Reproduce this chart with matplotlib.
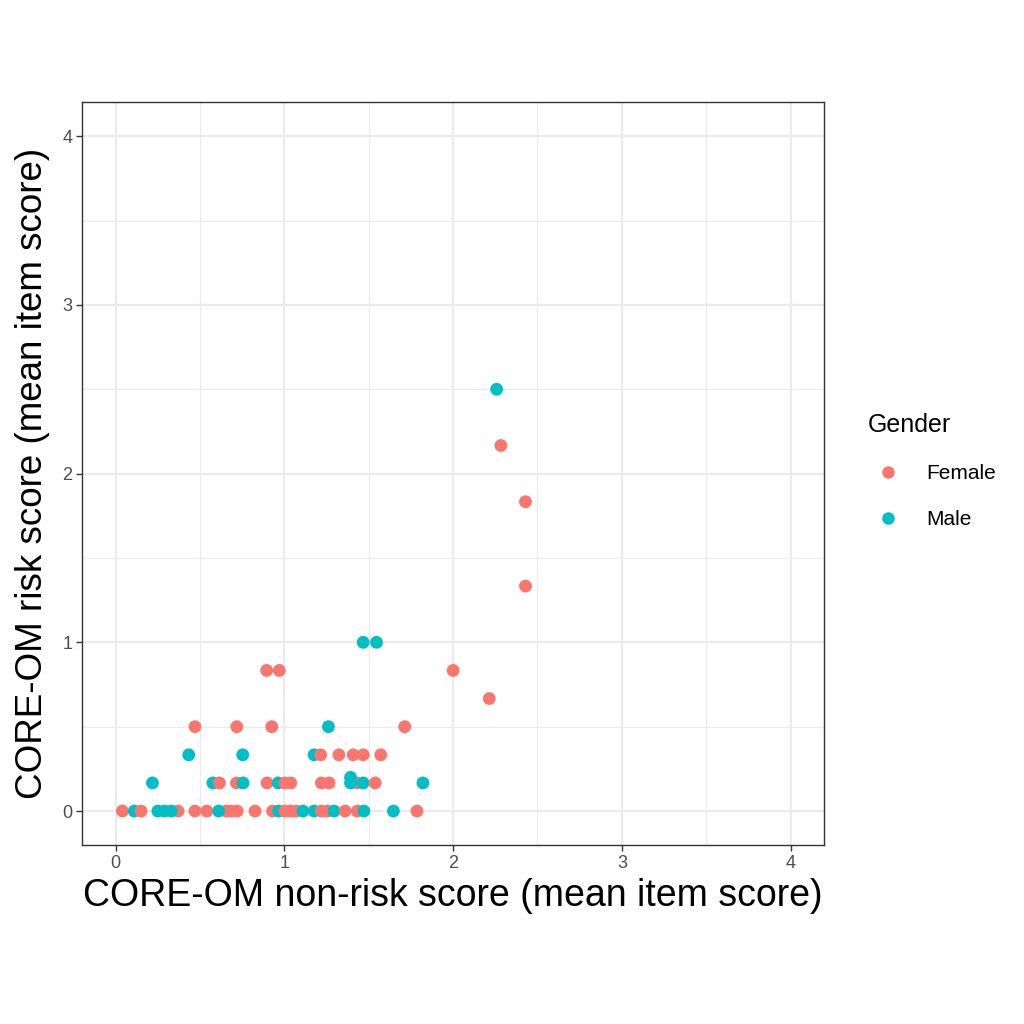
import matplotlib.pyplot as plt
from matplotlib.lines import Line2D

# CORE-OM scores, in drawing order
nonrisk = [0.04, 0.11, 0.15, 0.37, 0.25, 0.29, 0.33, 0.47, 0.54,
           0.655, 0.684, 0.72, 0.61, 0.826, 0.93, 0.966, 1.003, 1.036, 1.07,
           1.11, 1.176, 1.219, 1.255, 1.294, 1.36, 1.432, 1.471, 1.646, 1.786,
           0.218, 0.576, 0.615, 0.716, 0.755, 0.897, 0.963, 1.003, 1.038,
           1.219, 1.265, 1.43, 1.392, 1.467, 1.538, 1.821,
           1.392,
           0.433, 0.753, 1.176, 1.215, 1.323, 1.408, 1.467, 1.571,
           0.47, 0.718, 0.925, 1.261, 1.713,
           0.895, 0.97, 2.0, 2.214,
           1.467, 1.546,
           2.429, 2.429, 2.283, 2.258]
risk = [0, 0, 0, 0, 0, 0, 0, 0, 0,
        0, 0, 0, 0, 0, 0, 0, 0, 0, 0,
        0, 0, 0, 0, 0, 0, 0, 0, 0, 0,
        1/6, 1/6, 1/6, 1/6, 1/6, 1/6, 1/6, 1/6, 1/6,
        1/6, 1/6, 1/6, 1/6, 1/6, 1/6, 1/6,
        0.2,
        1/3, 1/3, 1/3, 1/3, 1/3, 1/3, 1/3, 1/3,
        0.5, 0.5, 0.5, 0.5, 0.5,
        5/6, 5/6, 5/6, 2/3,
        1.0, 1.0,
        4/3, 11/6, 13/6, 2.5]
gender = ['F', 'M', 'F', 'F', 'M', 'M', 'M', 'F', 'F',
          'F', 'F', 'F', 'M', 'F', 'F', 'M', 'F', 'F', 'F',
          'M', 'M', 'F', 'F', 'M', 'F', 'F', 'M', 'M', 'F',
          'M', 'M', 'F', 'F', 'M', 'F', 'M', 'F', 'F',
          'F', 'F', 'F', 'M', 'M', 'F', 'M',
          'M',
          'M', 'M', 'M', 'F', 'F', 'F', 'F', 'F',
          'F', 'F', 'F', 'M', 'F',
          'F', 'F', 'F', 'F',
          'M', 'M',
          'F', 'F', 'F', 'M']

colours = {'F': '#F8766D', 'M': '#00BFC4'}
labels = {'F': 'Female', 'M': 'Male'}

plt.rcParams['font.family'] = ['Liberation Sans', 'DejaVu Sans']

fig = plt.figure(figsize=(10.24, 10.24), dpi=100)
ax = fig.add_axes([0.080, 0.175, 0.725, 0.725])

ax.scatter(nonrisk, risk, c=[colours[g] for g in gender], s=85,
           linewidths=0, zorder=3)

ax.set_xlim(-0.2, 4.2)
ax.set_ylim(-0.2, 4.2)
ax.set_xticks([0, 1, 2, 3, 4])
ax.set_yticks([0, 1, 2, 3, 4])
ax.set_xticks([0.5, 1.5, 2.5, 3.5], minor=True)
ax.set_yticks([0.5, 1.5, 2.5, 3.5], minor=True)
ax.grid(True, which='major', color='#EBEBEB', linewidth=1.6, zorder=0)
ax.grid(True, which='minor', color='#EBEBEB', linewidth=0.8, zorder=0)
ax.set_axisbelow(True)
ax.tick_params(which='major', length=4, width=1, color='#333333',
               labelcolor='#4D4D4D', labelsize=13, pad=3)
ax.tick_params(which='minor', length=0)
for sp in ax.spines.values():
    sp.set_color('#333333')
    sp.set_linewidth(1)

ax.set_xlabel('CORE-OM non-risk score (mean item score)', fontsize=27, labelpad=5)
ax.set_ylabel('CORE-OM risk score (mean item score)', fontsize=26.5, labelpad=9)

handles = [Line2D([], [], marker='o', linestyle='', markersize=9,
                  markerfacecolor=colours[k], markeredgewidth=0,
                  label=labels[k]) for k in ['F', 'M']]
fig.legend(handles=handles, title='Gender', loc='center left',
           bbox_to_anchor=(0.829, 0.54), frameon=False, fontsize=15,
           title_fontsize=18, handletextpad=0.8, labelspacing=1.3,
           alignment='left')

fig.savefig('out.png', dpi=100, facecolor='white')
